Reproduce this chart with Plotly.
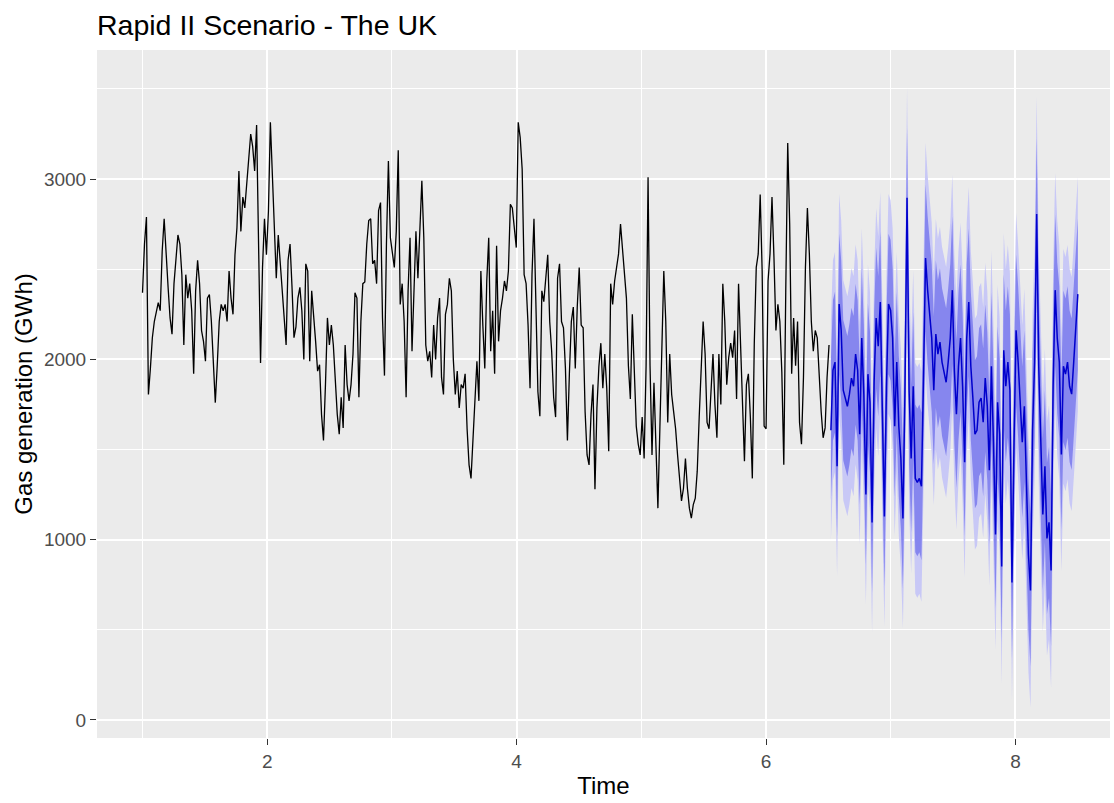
import numpy as np
import plotly.graph_objects as go

# ---- data ----
title = "Rapid II Scenario - The UK"
x_label = "Time"
y_label = "Gas generation (GWh)"

hist_start, hist_end = 1.0, 6.505
fc_start, fc_end = 6.52, 8.50

hist_y1 = [2370, 2640, 2790, 1805, 1950, 2120, 2210, 2270, 2315, 2270, 2600, 2780, 2620, 2400, 2230, 2140, 2420, 2550, 2690, 2640,
           2470, 2080, 2470, 2340, 2420, 2270, 1920, 2380, 2550, 2420, 2160, 2100, 1990, 2340, 2360, 2210, 2000, 1760, 1970, 2210,
           2305, 2270, 2305, 2210, 2490, 2340, 2250, 2580, 2730, 3045, 2710, 2900, 2840, 2990, 3120, 3250, 3180, 3045, 3300]
hist_y2 = [2565, 1980, 2510, 2780, 2580, 2820, 3315, 3045, 2820, 2450, 2690, 2530, 2420, 2210, 2080, 2550, 2640, 2400, 2120, 2180,
           2340, 2400, 2270, 2000, 2530, 2490, 1990, 2380, 2250, 2100, 1935, 1970, 1695, 1550, 1860, 2230, 2080, 2190, 2080, 1900,
           1695, 1585, 1790, 1620, 2080, 1860, 1770, 1860, 2030, 2370, 2340, 1790, 2210, 2420, 2430, 2640, 2770, 2780, 2530]
hist_y3 = [2550, 2420, 2825, 2870, 2230, 1910, 2640, 3100, 2675, 2600, 2510, 2710, 3160, 2305, 2420, 2210, 1790, 2380, 2675, 2045,
           2340, 2710, 2450, 2750, 2990, 2675, 2080, 1990, 2045, 1900, 2190, 2000, 2230, 2340, 1900, 1805, 2250, 2305, 2450, 2380,
           2000, 1805, 1935, 1730, 1860, 1840, 1920, 1615, 1415, 1340, 1550, 1840, 1990, 1770, 2490, 2190, 1950, 2435, 2675]
hist_y4 = [2045, 2270, 1920, 2630, 2100, 2270, 2340, 2435, 2380, 2490, 2860, 2840, 2730, 2620, 3315, 3230, 3055, 2470, 2420, 2190,
           1840, 2470, 2780, 2190, 1820, 1685, 2380, 2320, 2450, 2580, 2210, 2045, 1790, 1680, 2450, 2530, 2210, 2175, 1950, 1550,
           1920, 2210, 2290, 1950, 2290, 2510, 2190, 2175, 1710, 1470, 1415, 1695, 1860, 1280, 1730, 1960, 2090, 1840, 2030, 1840]
hist_y5 = [1490, 2420, 2305, 2435, 2510, 2585, 2750, 2600, 2435, 2340, 1965, 1780, 2250, 1965, 1630, 1530, 1470, 1680, 1450, 1965,
           3010, 1965, 1470, 1870, 1490, 1175, 1615, 2110, 2490, 2210, 1650, 2030, 1805, 1710, 1615, 1470, 1340, 1215, 1285, 1450,
           1285, 1175, 1120, 1195, 1230, 1380, 1680, 1935, 2210, 2030, 1650, 1615, 1870, 2030, 1750, 1565, 2030, 1750, 2420, 2210,
           1860, 2010, 2090]
hist_y6 = [2010, 2160, 1780, 2420, 2090, 1710, 1435, 1860, 1920, 1680, 1340, 2090, 2510, 2585, 2915, 2490, 1630, 1615, 2435, 2585,
           2900, 2565, 2160, 2305, 2210, 1930, 1415, 2380, 3200, 2750, 1920, 2230, 1965, 2210, 1650, 1530, 1900, 2510, 2840, 2585,
           2210, 2045, 2160, 2120, 1900, 1710, 1565, 1620, 1900, 2080]

fc_mean1 = [1607, 1940, 1985, 1407, 2307, 2160, 1829, 1785, 1740, 1807, 1896, 1851, 2029, 1940, 1585, 2118, 1807, 1251, 1918, 1762,
            1096, 1873, 2229, 2073, 2318, 1718, 1129, 1851, 2307, 2273, 2118, 1629, 1985, 1629, 1451, 1118, 1829, 2896]
fc_mean2 = [1829, 1451, 1851, 1340, 1318, 1340, 1296, 1896, 2562, 2384, 2251, 2118, 1829, 2140, 2029, 2096, 1985, 1918, 1873, 1985,
            2118, 2384, 1940, 1696, 1962, 2118, 1851, 1429, 2118, 2318, 1962, 1785, 1585, 1607, 1762, 1785, 1651, 1896, 1740, 1385,
            1962, 1540, 1029]
fc_mean3 = [1762, 1585, 851, 2051, 1851, 1985, 1829, 762, 1540, 2162, 1985, 1718, 1540, 1740, 1318, 918, 718, 1607, 1985, 2807,
            1962, 1585, 1140, 1407, 1007, 1096, 829, 1851, 2384, 2118, 1985, 1473, 1962, 1918, 1985, 1851, 1807, 1985, 2184, 2362]

# half-widths of the 80% and 95% intervals, read per section of the forecast
hw80 = [390] * len(fc_mean1) + [410] * len(fc_mean2) + [420] * len(fc_mean3)
hw95 = [610] * len(fc_mean1) + [640] * len(fc_mean2) + [650] * len(fc_mean3)

y_ticks = [0, 1000, 2000, 3000]
x_ticks = [2, 4, 6, 8]

# ---- build ----
hist_y = np.array(hist_y1 + hist_y2 + hist_y3 + hist_y4 + hist_y5 + hist_y6, dtype=float)
hist_t = np.linspace(hist_start, hist_end, len(hist_y))
fc_mean = np.array(fc_mean1 + fc_mean2 + fc_mean3, dtype=float)
fc_t = np.linspace(fc_start, fc_end, len(fc_mean))
lo80 = fc_mean - np.array(hw80)
hi80 = fc_mean + np.array(hw80)
lo95 = fc_mean - np.array(hw95)
hi95 = fc_mean + np.array(hw95)

FONT = "Liberation Sans, Arial, sans-serif"
fig = go.Figure()
fig.add_trace(go.Scatter(x=fc_t, y=lo95, mode="lines", line=dict(width=0), hoverinfo="skip", showlegend=False))
fig.add_trace(go.Scatter(x=fc_t, y=hi95, mode="lines", line=dict(width=0), fill="tonexty",
                         fillcolor="#C8C8F6", hoverinfo="skip", showlegend=False))
fig.add_trace(go.Scatter(x=fc_t, y=lo80, mode="lines", line=dict(width=0), hoverinfo="skip", showlegend=False))
fig.add_trace(go.Scatter(x=fc_t, y=hi80, mode="lines", line=dict(width=0), fill="tonexty",
                         fillcolor="#8686EE", hoverinfo="skip", showlegend=False))
fig.add_trace(go.Scatter(x=fc_t, y=fc_mean, mode="lines", line=dict(color="#0000CC", width=1.5), showlegend=False))
fig.add_trace(go.Scatter(x=hist_t, y=hist_y, mode="lines", line=dict(color="black", width=1.3), showlegend=False))

axis_common = dict(
    showgrid=True, gridcolor="white", gridwidth=1.6, zeroline=False, showline=False,
    ticks="outside", ticklen=6, tickwidth=1.3, tickcolor="#333333",
    tickfont=dict(family=FONT, size=19, color="#4D4D4D"),
)
fig.update_layout(
    width=1114, height=803,
    margin=dict(l=97, r=4, t=50, b=65),
    paper_bgcolor="white", plot_bgcolor="#EBEBEB",
    title=dict(text=title, x=0, xref="paper", xanchor="left", y=1 - 25 / 803, yref="container",
               yanchor="middle", font=dict(family=FONT, size=28.5, color="black")),
    xaxis=dict(range=[0.635, 8.758], tickvals=x_ticks, ticktext=[str(v) for v in x_ticks],
               minor=dict(dtick=1, tick0=0, showgrid=True, gridcolor="white", gridwidth=0.8, ticks=""),
               title=dict(text=x_label, font=dict(family=FONT, size=24, color="black"), standoff=6),
               **axis_common),
    yaxis=dict(range=[-100, 3716], tickvals=y_ticks, ticktext=[str(v) for v in y_ticks],
               minor=dict(dtick=500, tick0=0, showgrid=True, gridcolor="white", gridwidth=0.8, ticks=""),
               title=dict(text=y_label, font=dict(family=FONT, size=24, color="black"), standoff=4),
               **axis_common),
    showlegend=False,
)
fig.write_html("out.html")
